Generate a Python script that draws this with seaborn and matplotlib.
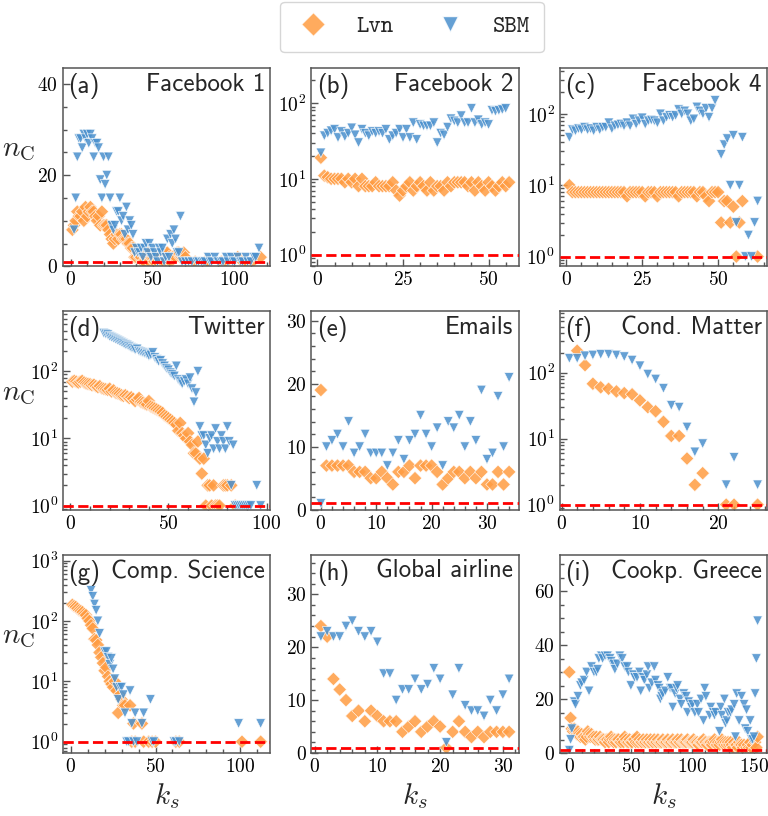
import numpy as np
import pandas as pd
import matplotlib.pyplot as plt
import seaborn as sns
from matplotlib.lines import Line2D
from matplotlib.ticker import MultipleLocator, AutoMinorLocator

# ── Data (k_s, n_C) per network ─────────────────────
a_lvn_k = list(range(1, 71)) + [76, 82, 84, 92, 95, 102, 105, 107, 111, 116]
a_lvn_n = [8, 9, 10, 12, 11, 11, 12, 10, 13, 11,
           12, 13, 12, 12, 11, 10, 11, 9, 12, 9,
           9, 9, 8, 7, 6, 5, 6, 7, 6, 7,
           7, 6, 6, 6, 5, 5, 4, 4, 2, 2,
           3, 2, 2, 1, 1, 2, 3, 1, 2, 2,
           1, 2, 1, 2, 1, 1, 1, 3, 3, 2,
           1, 2, 2, 2, 3, 3, 2, 2, 3, 2,
           1, 1, 1, 1, 1, 2, 1, 1, 1, 2]
a_sbm_k = list(range(2, 69)) + [70, 72, 74, 77, 78, 80, 81, 82, 84, 85,
                                86, 88, 90, 92, 93, 95, 96, 98, 99, 100,
                                102, 104, 105, 107, 108, 110, 112, 113, 115]
a_sbm_n = [8, 15, 24, 28, 28, 26, 29, 28, 29, 27,
           29, 28, 24, 27, 27, 26, 19, 15, 24, 18,
           20, 24, 15, 9, 8, 9, 12, 12, 15, 10,
           11, 7, 13, 8, 10, 9, 7, 3, 4, 3,
           3, 4, 2, 4, 5, 3, 5, 2, 4, 3,
           2, 1, 4, 3, 4, 1, 2, 6, 2, 7,
           5, 8, 6, 3, 3, 11, 1,
           1, 1, 1, 1, 1, 1, 1, 1, 2, 1,
           1, 2, 1, 1, 1, 2, 1, 2, 1, 1,
           2, 1, 1, 2, 1, 1, 2, 2, 4]

b_lvn_k = list(range(1, 57))
b_lvn_n = [19, 11, 10.5, 10, 10, 10, 10, 9, 10, 9,
           10, 8, 10, 8, 8, 8, 9, 8, 8, 8,
           8, 9, 7, 6, 7, 8, 9, 7, 8, 9,
           8, 7, 9, 7, 8, 8, 7, 9, 8, 9,
           9, 9, 9, 8, 9, 7, 9, 8, 7, 9,
           8, 7, 8, 9, 8, 9]
b_sbm_k = list(range(1, 56))
b_sbm_n = [22, 37, 40, 43, 45, 35, 42, 36, 40, 47,
           38, 30, 45, 40, 37, 42, 40, 42, 40, 45,
           33, 37, 40, 45, 35, 45, 35, 55, 33, 52,
           50, 50, 50, 55, 30, 40, 38, 48, 62, 58,
           55, 68, 55, 55, 85, 55, 60, 52, 55, 52,
           80, 78, 80, 82, 85]

c_lvn_k = list(range(1, 51)) + [51, 52, 53, 54, 55, 56, 57, 58, 63]
c_lvn_n = [10, 8, 8, 8, 8, 8, 8, 8, 8, 8,
           8, 8, 8, 8, 8, 8, 8, 8, 8, 7,
           8, 8, 8, 8, 8, 7, 8, 8, 8, 7,
           8, 8, 8, 8, 8, 8, 7, 8, 8, 8,
           8, 8, 7, 8, 8, 7, 6, 8, 8, 8,
           3, 6, 6, 3, 5, 1, 3, 6, 1]
c_sbm_k = list(range(1, 50)) + [51, 52, 53, 54, 55, 56, 57, 58, 59, 60, 61, 62, 63]
c_sbm_n = [47, 60, 58, 62, 60, 65, 60, 62, 58, 65,
           60, 65, 65, 75, 62, 68, 70, 72, 68, 75,
           68, 85, 72, 80, 88, 72, 80, 82, 80, 75,
           100, 80, 90, 95, 90, 95, 115, 100, 110, 100,
           80, 85, 125, 110, 100, 120, 90, 120, 155,
           27, 37, 45, 10, 50, 3, 10, 47, 1, 2, 1, 3, 6]

d_lvn_k = list(range(1, 77)) + [78, 79, 80, 82, 84]
d_lvn_n = [70, 72, 70, 68, 70, 72, 68, 66, 65, 64,
           62, 63, 60, 58, 60, 56, 55, 54, 53, 55,
           50, 52, 48, 47, 46, 44, 43, 44, 42, 40,
           41, 39, 36, 38, 40, 35, 34, 33, 32, 36,
           30, 29, 28, 27, 26, 25, 24, 22, 21, 20,
           19, 18, 17, 16, 13, 17, 12, 11, 10, 12,
           9, 8, 6, 6, 9, 5, 3, 5, 1, 2,
           2, 1, 2, 1, 1, 1,
           2, 2, 2, 2, 1]
d_sbm_k = list(range(17, 93)) + [95, 97]
d_sbm_n = [370, 360, 350, 330, 320, 310, 300, 290, 280, 270,
           260, 250, 245, 235, 225, 220, 210, 215, 200, 195,
           190, 185, 180, 170, 175, 190, 160, 150, 140, 145,
           130, 120, 110, 105, 95, 90, 85, 120, 75, 70,
           65, 70, 75, 65, 80, 55, 35, 48, 100, 15,
           11, 11, 8, 6, 10, 11, 7, 14, 9, 7,
           11, 9, 7, 15, 9, 2, 8, 1, 1, 1,
           1, 1, 1, 1, 1, 1,
           2, 1]

e_lvn_k = list(range(0, 35))
e_lvn_n = [19, 7, 7, 7, 7, 7, 6, 6, 6, 5,
           5, 6, 5, 4, 6, 6, 7, 5, 7, 7,
           7, 6, 4, 5, 6, 6, 5, 6, 5, 6,
           4, 4, 6, 4, 6]
e_sbm_k = list(range(0, 35))
e_sbm_n = [1, 10, 11, 12, 10, 14, 9, 10, 12, 9,
           9, 9, 7, 9, 11, 8, 11, 12, 15, 12,
           10, 13, 7, 14, 13, 15, 10, 14, 11, 19,
           8, 9, 18, 10, 21]

f_lvn_k = list(range(2, 19)) + [21, 22, 25]
f_lvn_n = [215, 130, 68, 60, 57, 52, 49, 47, 38, 30,
           26, 18, 11, 11, 5, 2, 3, 1, 1, 1]
f_sbm_k = list(range(1, 19)) + [21, 22, 25]
f_sbm_n = [165, 165, 180, 185, 190, 190, 185, 175, 155, 127,
           95, 80, 58, 32, 30, 15, 6.3, 8.4, 2, 5.2, 2]

g_lvn_k = list(range(1, 33)) + [35, 36, 37, 38, 42, 43, 46, 48, 50, 62, 64, 101, 112]
g_lvn_n = [185, 175, 170, 160, 150, 145, 140, 130, 125, 110,
           100, 85, 75, 50, 48, 40, 30, 25, 20, 15,
           17, 12, 10, 9, 8, 10, 7, 3, 6, 5,
           4, 4,
           4, 1, 2, 1, 2, 1, 1, 1, 1, 1, 1, 1, 1]
g_sbm_k = [12, 13, 14, 15, 16, 17, 20, 21, 22, 23, 24, 25, 26, 27, 28, 29, 30, 31,
           32, 33, 34, 35, 36, 37, 38, 39, 42, 43, 47, 48, 49, 61, 62, 64, 99, 112]
g_sbm_n = [320, 255, 190, 150, 100, 62, 31, 31, 25, 19, 24, 16, 11, 8, 5, 8, 8, 6,
           3, 1, 1, 7, 2, 1, 3, 1, 2, 3, 5, 1, 1, 1, 1, 1, 2, 2]

h_lvn_k = list(range(1, 32))
h_lvn_n = [24, 22, 14, 12, 10, 7, 8, 6, 8, 7,
           6, 6, 6, 4, 5, 6, 4, 5, 6, 5,
           1, 4, 6, 4, 3, 4, 3, 4, 4, 4,
           4]
h_sbm_k = list(range(1, 32))
h_sbm_n = [22, 23, 22, 22, 24, 25, 23, 22, 23, 21,
           15, 15, 10, 12, 12, 14, 12, 13, 16, 14,
           2, 11, 16, 9, 8, 8, 7, 10, 8, 11,
           14]

i_lvn_k = list(range(0, 154))
i_lvn_n = [30, 13, 9, 8, 9, 8, 7, 8, 7, 6,
           7, 6, 6, 5, 6, 8, 7, 6, 7, 6,
           6, 5, 6, 5, 5, 6, 5, 5, 5, 4,
           5, 5, 4, 5, 6, 5, 4, 5, 4, 5,
           5, 4, 4, 5, 4, 6, 5, 4, 4, 5,
           4, 4, 5, 5, 4, 6, 4, 5, 4, 4,
           5, 4, 4, 5, 4, 4, 5, 4, 4, 5,
           4, 4, 5, 4, 4, 4, 5, 4, 4, 4,
           5, 4, 4, 4, 5, 4, 4, 4, 5, 4,
           4, 5, 4, 4, 4, 4, 5, 4, 4, 4,
           4, 5, 4, 4, 4, 3, 4, 4, 4, 5,
           4, 4, 3, 4, 4, 4, 3, 4, 5, 4,
           3, 4, 3, 4, 5, 4, 3, 4, 3, 4,
           3, 4, 3, 2, 4, 3, 3, 2, 4, 3,
           3, 2, 3, 1, 2, 3, 2, 4, 2, 3,
           1, 4, 2, 6]
i_sbm_k = [0, 1, 2, 4, 5, 7, 9, 10, 12, 14,
           16, 18, 20, 22, 23, 24, 26, 27, 29, 31,
           33, 34, 36, 37, 39, 41, 43, 45, 47, 48,
           50, 52, 53, 55, 57, 58, 60, 61, 63, 64,
           65, 67, 69, 70, 72, 73, 74, 75, 76, 78,
           80, 82, 83, 84, 86, 87, 88, 90, 91, 93,
           95, 96, 97, 99, 100, 102, 104, 105, 107, 109,
           110, 111, 114, 115, 117, 118, 119, 122, 123, 124,
           126, 127, 128, 129, 131, 132, 134, 135, 136, 138,
           140, 142, 143, 144, 145, 147, 148, 149, 150, 151,
           152, 153]
i_sbm_n = [1, 5, 9, 19, 18, 21, 25, 26, 27, 30,
           23, 32, 30, 30, 31, 35, 36, 35, 36, 36,
           35, 34, 33, 31, 33, 36, 35, 32, 32, 30,
           25, 29, 28, 28, 30, 23, 28, 27, 29, 32,
           24, 26, 32, 27, 25, 24, 20, 21, 22, 23,
           28, 24, 24, 17, 22, 24, 25, 20, 18, 22,
           21, 15, 19, 17, 18, 15, 18, 15, 20, 12,
           24, 21, 14, 17, 15, 14, 15, 8, 17, 14,
           20, 11, 12, 15, 15, 16, 18, 6, 22, 12,
           21, 18, 9, 16, 8, 12, 5, 5, 6, 22,
           35, 49]

series = {
    "a": (a_lvn_k, a_lvn_n, a_sbm_k, a_sbm_n),
    "b": (b_lvn_k, b_lvn_n, b_sbm_k, b_sbm_n),
    "c": (c_lvn_k, c_lvn_n, c_sbm_k, c_sbm_n),
    "d": (d_lvn_k, d_lvn_n, d_sbm_k, d_sbm_n),
    "e": (e_lvn_k, e_lvn_n, e_sbm_k, e_sbm_n),
    "f": (f_lvn_k, f_lvn_n, f_sbm_k, f_sbm_n),
    "g": (g_lvn_k, g_lvn_n, g_sbm_k, g_sbm_n),
    "h": (h_lvn_k, h_lvn_n, h_sbm_k, h_sbm_n),
    "i": (i_lvn_k, i_lvn_n, i_sbm_k, i_sbm_n),
}

# letter, title, log-scale, log ylim, x major step, linear y major step
panels = [
    ("a", "Facebook 1", False, None, 50, 20),
    ("b", "Facebook 2", True, (0.7, 290), 25, None),
    ("c", "Facebook 4", True, (0.73, 440), 25, None),
    ("d", "Twitter", True, (0.87, 780), 50, None),
    ("e", "Emails", False, None, 10, 10),
    ("f", "Cond. Matter", True, (0.84, 850), 10, None),
    ("g", "Comp. Science", True, (0.65, 1250), 50, None),
    ("h", "Global airline", False, None, 10, 10),
    ("i", "Cookp. Greece", False, None, 50, 20),
]

COLORS  = {"Lvn": "#FF9C42", "SBM": "#4A90CD"}
MARKERS = {"Lvn": "D", "SBM": "v"}
GREY    = "#555555"

# ── Style ───────────────────────────────────────────
sns.set_theme(style="white")
plt.rcParams.update({
    "font.family": ["cmr10", "DejaVu Sans"],
    "mathtext.fontset": "cm",
    "axes.formatter.use_mathtext": True,
    "axes.edgecolor": GREY,
    "axes.linewidth": 1.1,
    "xtick.bottom": True, "ytick.left": True,
    "xtick.direction": "in", "ytick.direction": "in",
    "xtick.color": GREY, "ytick.color": GREY,
    "xtick.labelcolor": "black", "ytick.labelcolor": "black",
    "xtick.labelsize": 14, "ytick.labelsize": 14,
    "xtick.major.size": 5, "ytick.major.size": 5,
    "xtick.minor.size": 3, "ytick.minor.size": 3,
    "xtick.major.width": 1, "ytick.major.width": 1,
})

fig, axes = plt.subplots(3, 3, figsize=(7.68, 8.16), dpi=100)
fig.subplots_adjust(left=63/768, right=767/768, top=1-68/816,
                    bottom=1-753/816, wspace=0.2, hspace=0.227)

for ax, (key, title, logy, ylim, xstep, ystep) in zip(axes.flat, panels):
    lk, ln, sk, sn = series[key]
    df = pd.concat([
        pd.DataFrame({"ks": lk, "nc": ln, "model": "Lvn"}),
        pd.DataFrame({"ks": sk, "nc": sn, "model": "SBM"}),
    ], ignore_index=True)

    sns.scatterplot(data=df, x="ks", y="nc", hue="model", style="model",
                    markers=MARKERS, palette=COLORS, s=48, alpha=0.85,
                    edgecolor="white", linewidth=0.5, legend=False, ax=ax)
    ax.axhline(1, color="red", ls="--", lw=2, zorder=3)

    if logy:
        ax.set_yscale("log")
        ax.set_ylim(ylim)
    else:
        ax.set_ylim(0, 1.5 * df["nc"].max())
        ax.yaxis.set_major_locator(MultipleLocator(ystep))
        ax.yaxis.set_minor_locator(AutoMinorLocator())
    ax.xaxis.set_major_locator(MultipleLocator(xstep))
    ax.xaxis.set_minor_locator(AutoMinorLocator())

    ax.set_xlabel("")
    ax.set_ylabel("")
    ax.text(0.025, 0.975, f"({key})", transform=ax.transAxes, ha="left",
            va="top", fontsize=18, family="cmss10")
    ax.text(0.975, 0.975, title, transform=ax.transAxes, ha="right",
            va="top", fontsize=18, family="cmss10")

for ax in axes[:, 0]:
    ax.set_ylabel(r"$n_{\rm C}$", fontsize=21, rotation=0)
    ax.yaxis.set_label_coords(-0.215, 0.52)
for ax in axes[-1, :]:
    ax.set_xlabel(r"$k_s$", fontsize=21)

handles = [Line2D([], [], ls="", marker=MARKERS[m], color=COLORS[m],
                  markeredgecolor="white", markersize=12, alpha=0.85)
           for m in ["Lvn", "SBM"]]
fig.legend(handles, ["Lvn", "SBM"], loc="center",
           bbox_to_anchor=(412/768, 1-27/816), ncol=2,
           prop={"family": "cmtt10", "size": 17}, frameon=True,
           fancybox=True, edgecolor="#cccccc", handletextpad=1.0,
           handlelength=1.6, columnspacing=1.6, borderpad=0.6)

plt.savefig("out.png", dpi=100)
plt.close()
